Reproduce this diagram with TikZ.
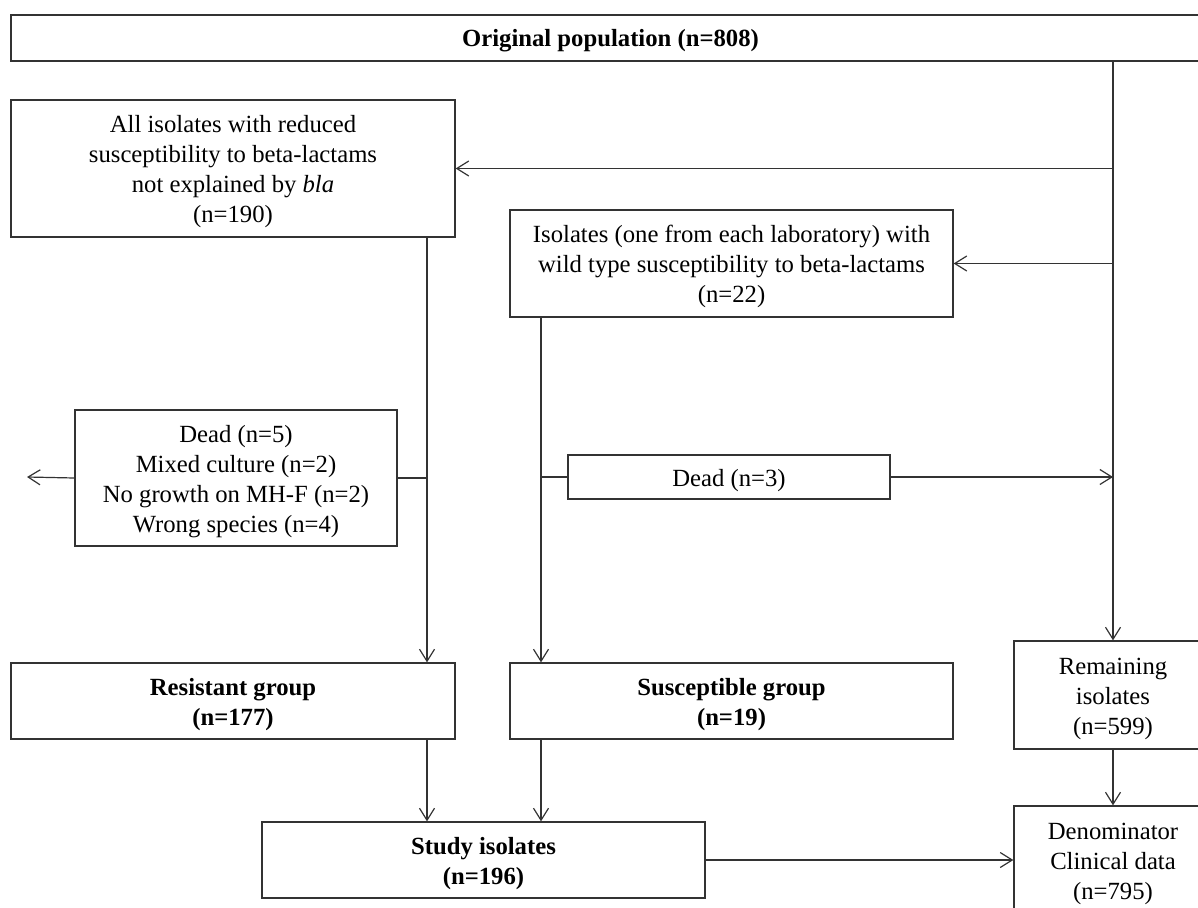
\documentclass[tikz,border=0pt]{standalone}
\usepackage{fontspec}
\setmainfont{Liberation Serif}
\usetikzlibrary{arrows.meta}
\newcommand{\boxtxt}[1]{\raisebox{-3pt}[\height][\depth]{\begin{tabular}{@{}c@{}}#1\end{tabular}}}
\begin{document}
\begin{tikzpicture}[x=1pt,y=-1pt,
  box/.style={draw=black!80, line width=1.3pt, inner sep=0pt,
    font=\fontsize{24.7}{30}\selectfont},
  bbox/.style={box, font=\fontsize{24.7}{30}\selectfont\bfseries},
  conn/.style={draw=black!80, line width=1.2pt},
  arr/.style={conn, -{Straight Barb[length=12pt,width=15pt,line width=1.2pt]}}]
\useasboundingbox (0,0) rectangle (1198,907);
\clip (0,0) rectangle (1198,907);
% boxes (centre, width, height in px)
\node[bbox, minimum width=1199, minimum height=46] (top) at (610.5,38) {\boxtxt{Original population (n=808)}};
\node[box, minimum width=444, minimum height=137] (A) at (233,168.5)
  {\boxtxt{All isolates with reduced\\susceptibility to beta-lactams\\not explained by \textit{bla}\\(n=190)}};
\node[box, minimum width=443, minimum height=107] (B) at (731.5,263.5)
  {\boxtxt{Isolates (one from each laboratory) with\\wild type susceptibility to beta-lactams\\(n=22)}};
\node[box, minimum width=322, minimum height=136] (C) at (236,478)
  {\boxtxt{Dead (n=5)\\Mixed culture (n=2)\\No growth on MH-F (n=2)\\Wrong species (n=4)}};
\node[box, minimum width=322, minimum height=44] (D) at (729,477) {\boxtxt{Dead (n=3)}};
\node[bbox, minimum width=444, minimum height=76] (res) at (233,701) {\boxtxt{Resistant group\\(n=177)}};
\node[bbox, minimum width=443, minimum height=76] (sus) at (731.5,701) {\boxtxt{Susceptible group\\(n=19)}};
\node[box, minimum width=198, minimum height=108] (rem) at (1113,695) {\boxtxt{Remaining\\isolates\\(n=599)}};
\node[bbox, minimum width=443, minimum height=76] (study) at (483.5,860) {\boxtxt{Study isolates\\(n=196)}};
\node[box, minimum width=198, minimum height=108] (den) at (1113,860) {\boxtxt{Denominator\\Clinical data\\(n=795)}};
% guide coordinates
\coordinate (lx) at (427,0);
\coordinate (mx) at (541,0);
\coordinate (out) at (27,477);
% right spine
\draw[arr] (top.south -| rem.north) -- (rem.north);
\draw[arr] (A.east -| rem.north) -- (A.east);
\draw[arr] (B.east -| rem.north) -- (B.east);
\draw[arr] (D.east) -- (D.east -| rem.north);
\draw[arr] (rem.south) -- (den.north);
% left branch
\draw[arr] (A.south -| lx) -- (res.north -| lx);
\draw[conn] (C.east) -- (C.east -| lx);
\draw[arr] (C.west) -- (out);
% middle branch
\draw[arr] (B.south -| mx) -- (sus.north -| mx);
\draw[conn] (D.west -| mx) -- (D.west);
% to study
\draw[arr] (res.south -| lx) -- (study.north -| lx);
\draw[arr] (sus.south -| mx) -- (study.north -| mx);
\draw[arr] (study.east) -- (study.east -| den.west);
\end{tikzpicture}
\end{document}
